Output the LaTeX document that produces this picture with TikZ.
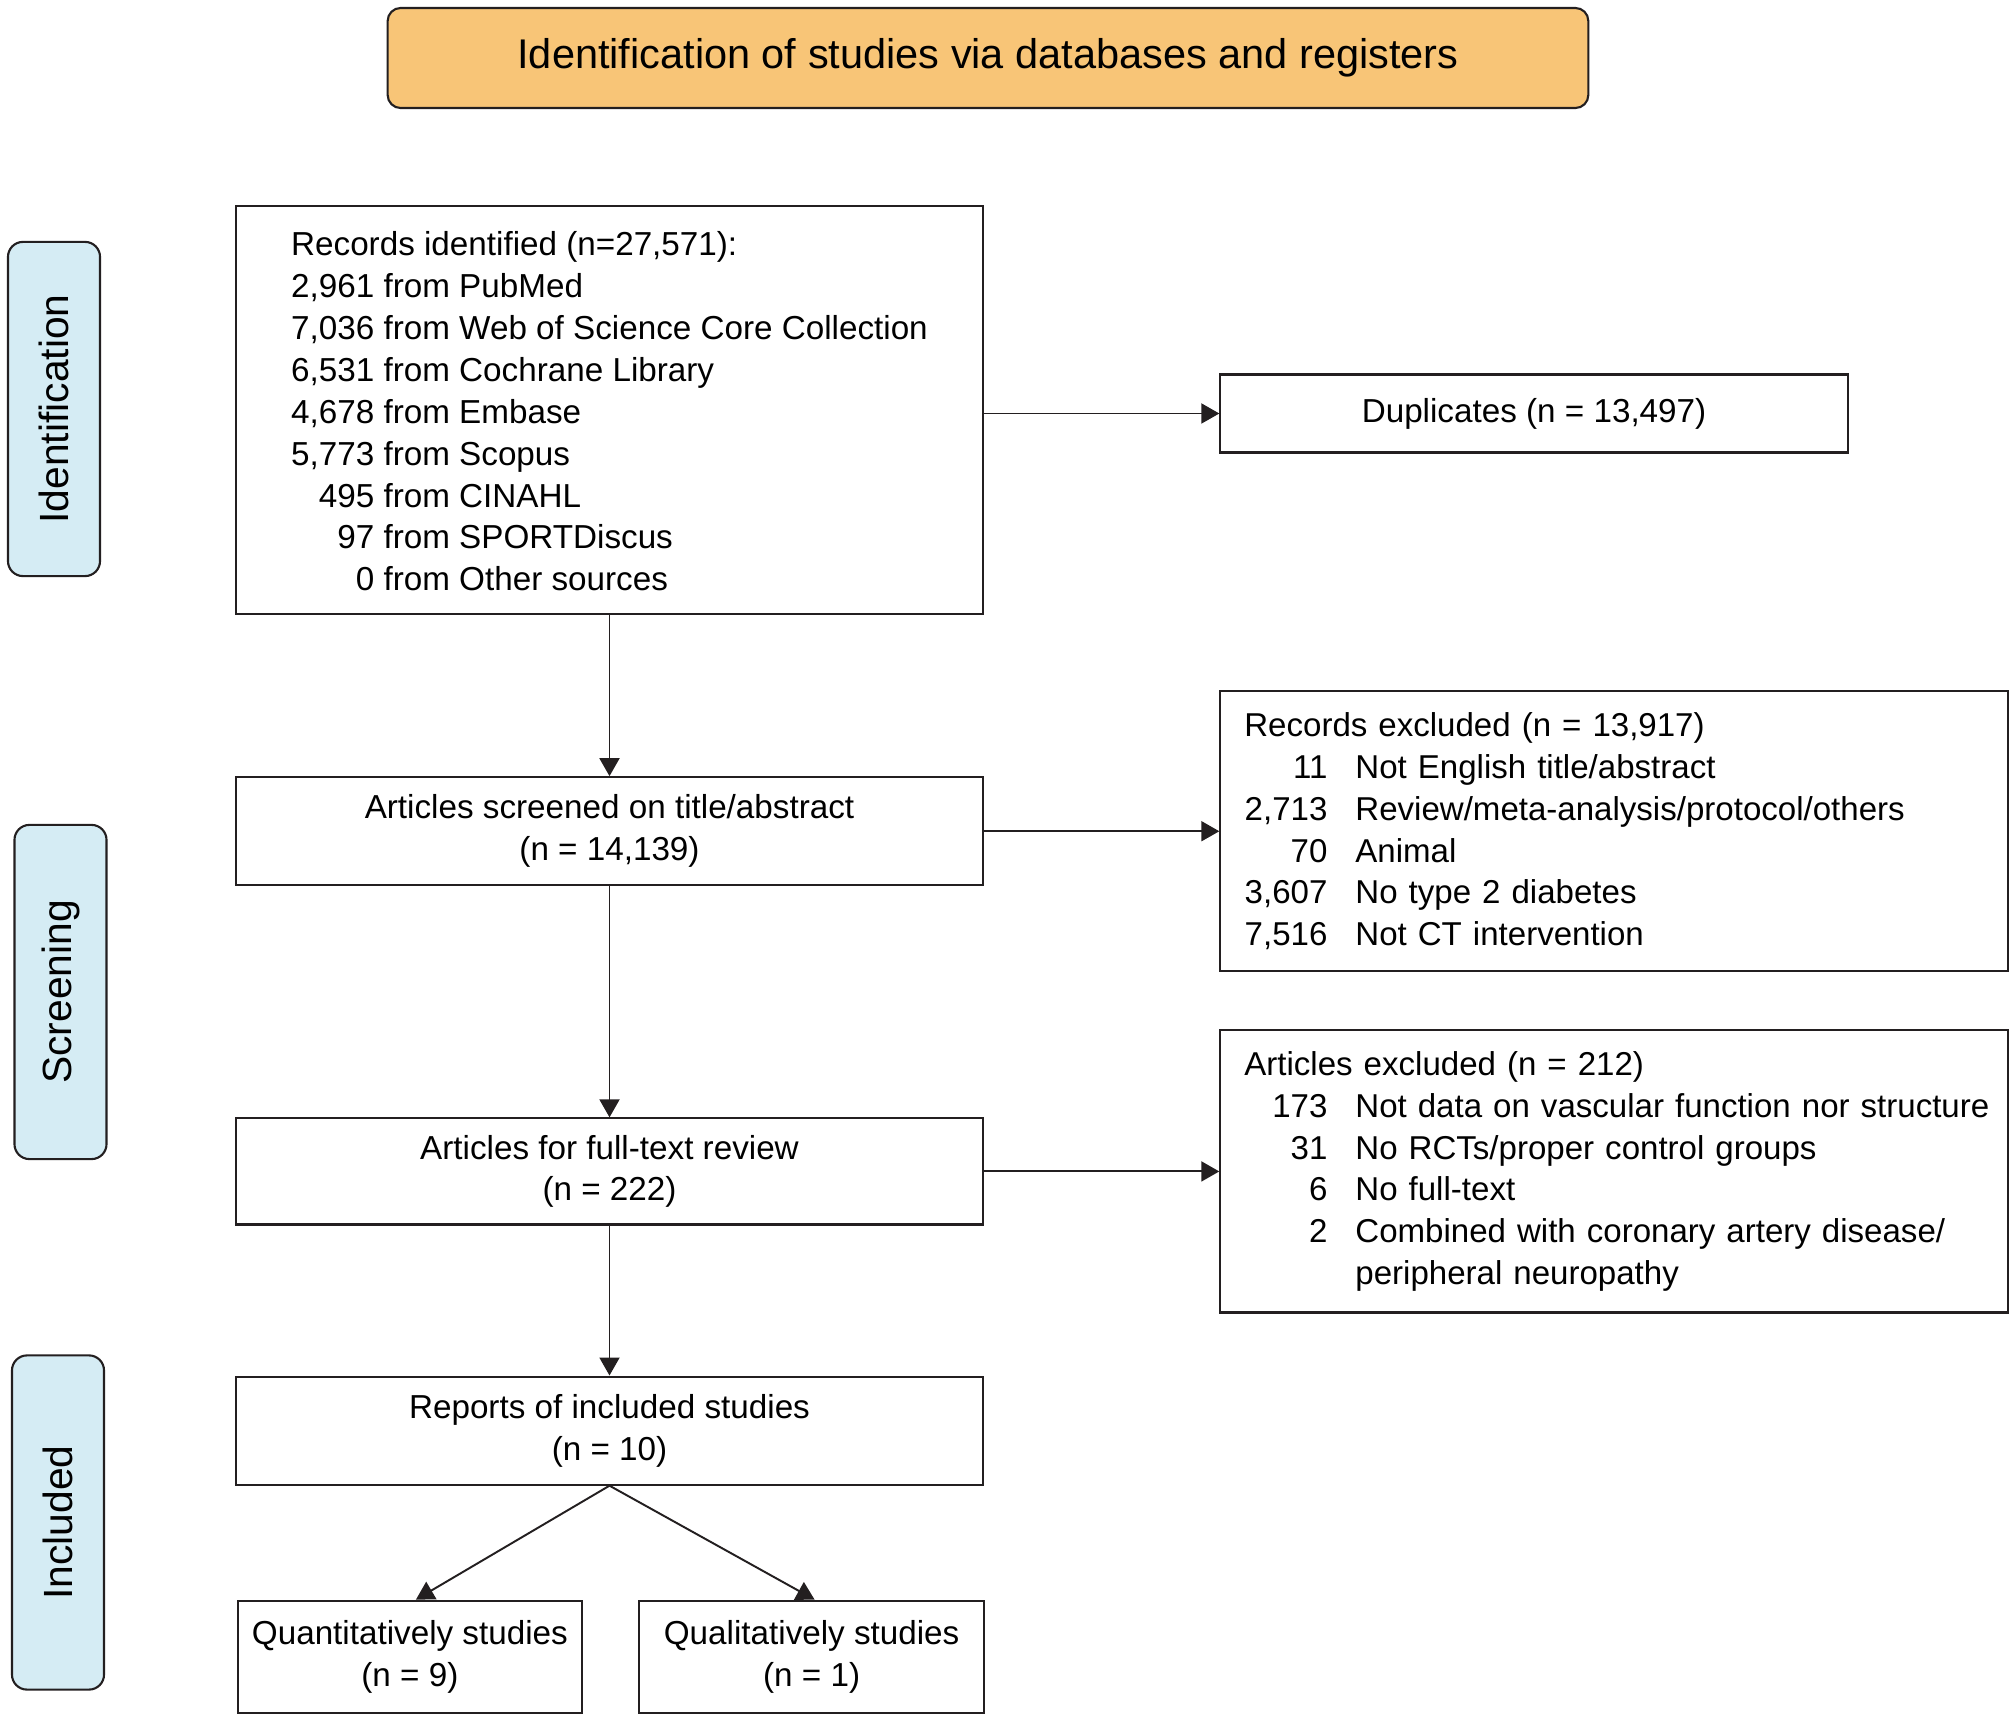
\documentclass[tikz,border=0pt]{standalone}
\usepackage{fontspec}
\setmainfont{Liberation Sans}
\usetikzlibrary{positioning,arrows.meta}

\definecolor{headorange}{HTML}{F8C577}
\definecolor{phaseblue}{HTML}{D5ECF4}
\definecolor{inkline}{HTML}{231F20}

% number column for the exclusion lists
\newcommand{\exline}[2]{\mbox{\makebox[0.83cm][r]{#1}\hspace{0.28cm}#2}}

\tikzset{
  box/.style={draw=inkline, line width=0.6pt, minimum width=7.47cm, align=center,
    font=\fontsize{9.45}{11.9}\selectfont, inner sep=0pt},
  sidebox/.style={draw=inkline, line width=0.6pt, minimum width=7.87cm, text width=7.39cm,
    inner xsep=0.24cm, align=left, font=\fontsize{9.4}{11.9}\selectfont},
  phase/.style={draw=inkline, line width=0.6pt, fill=phaseblue, rounded corners=0.15cm,
    rotate=90, minimum width=3.34cm, minimum height=0.92cm,
    font=\fontsize{11.6}{14}\selectfont},
  flow/.style={-{Triangle[length=0.18cm,width=0.2cm]}, draw=inkline, line width=0.55pt}
}

\begin{document}
\begin{tikzpicture}[x=0.01cm, y=-0.01cm, node distance=2cm, on grid]
\useasboundingbox (0,0) rectangle (2015,1719);

\node[draw=inkline, line width=0.6pt, fill=headorange, rounded corners=0.13cm,
  minimum width=12cm, minimum height=1cm, font=\fontsize{11.8}{14}\selectfont]
  (head) at (988,58) {Identification of studies via databases and registers};

% phases
\node[phase] (pid) at (54,409) {Identification};
\node[phase] (pscr) at (60.5,992) {Screening};
\node[phase] (pinc) at (58,1522.5) {Included};

% main column
\node[box, minimum height=4.07cm] (rec) at (609.5,410) {%
  \raisebox{-0.05cm}[\height][\depth]{\begin{tabular}{@{}r@{ }l@{}}
  \multicolumn{2}{@{}l@{}}{Records identified (n=27,571):}\\
  2,961 & from PubMed\\
  7,036 & from Web of Science Core Collection\\
  6,531 & from Cochrane Library\\
  4,678 & from Embase\\
  5,773 & from Scopus\\
  495 & from CINAHL\\
  97 & from SPORTDiscus\\
  0 & from Other sources
  \end{tabular}}};
\node[box, minimum height=1.08cm] (scr) [below=4.21cm of rec]
  {Articles screened on title/abstract\\(n = 14,139)};
\node[box, minimum height=1.06cm] (full) [below=3.40cm of scr]
  {Articles for full-text review\\(n = 222)};
\node[box, minimum height=1.08cm] (incl) [below=2.59cm of full]
  {Reports of included studies\\(n = 10)};
\node[box, minimum width=3.44cm, minimum height=1.12cm] (quant) [below left=2.26cm and 1.995cm of incl]
  {Quantitatively studies\\(n = 9)};
\node[box, minimum width=3.45cm, minimum height=1.12cm] (qual) [below right=2.26cm and 2.02cm of incl]
  {Qualitatively studies\\(n = 1)};

% exclusions
\node[box, minimum width=6.27cm, minimum height=0.78cm] (dup) [right=9.24cm of rec, yshift=-0.035cm]
  {Duplicates (n = 13,497)};
\node[sidebox, minimum height=2.80cm] (recex) [right=10.04cm of scr] {%
  Records excluded (n = 13,917)\\
  \exline{11}{Not English title/abstract}\\
  \exline{2,713}{Review/meta-analysis/protocol/others}\\
  \exline{70}{Animal}\\
  \exline{3,607}{No type 2 diabetes}\\
  \exline{7,516}{Not CT intervention}};
\node[sidebox, minimum height=2.82cm] (artex) [right=10.04cm of full] {%
  Articles excluded (n = 212)\\
  \exline{173}{Not data on vascular function nor structure}\\
  \exline{31}{No RCTs/proper control groups}\\
  \exline{6}{No full-text}\\
  \exline{2}{Combined with coronary artery disease/}\\
  \exline{}{peripheral neuropathy}};

\draw[flow] (rec) -- (scr);
\draw[flow] (scr) -- (full);
\draw[flow] (full) -- (incl);
\draw[flow] (incl.south) -- ([xshift=0.06cm]quant.north);
\draw[flow] (incl.south) -- ([xshift=0.03cm]qual.north);
\draw[flow] (rec.east |- dup.west) -- (dup.west);
\draw[flow] (scr) -- (recex);
\draw[flow] (full) -- (artex);
\end{tikzpicture}
\end{document}
